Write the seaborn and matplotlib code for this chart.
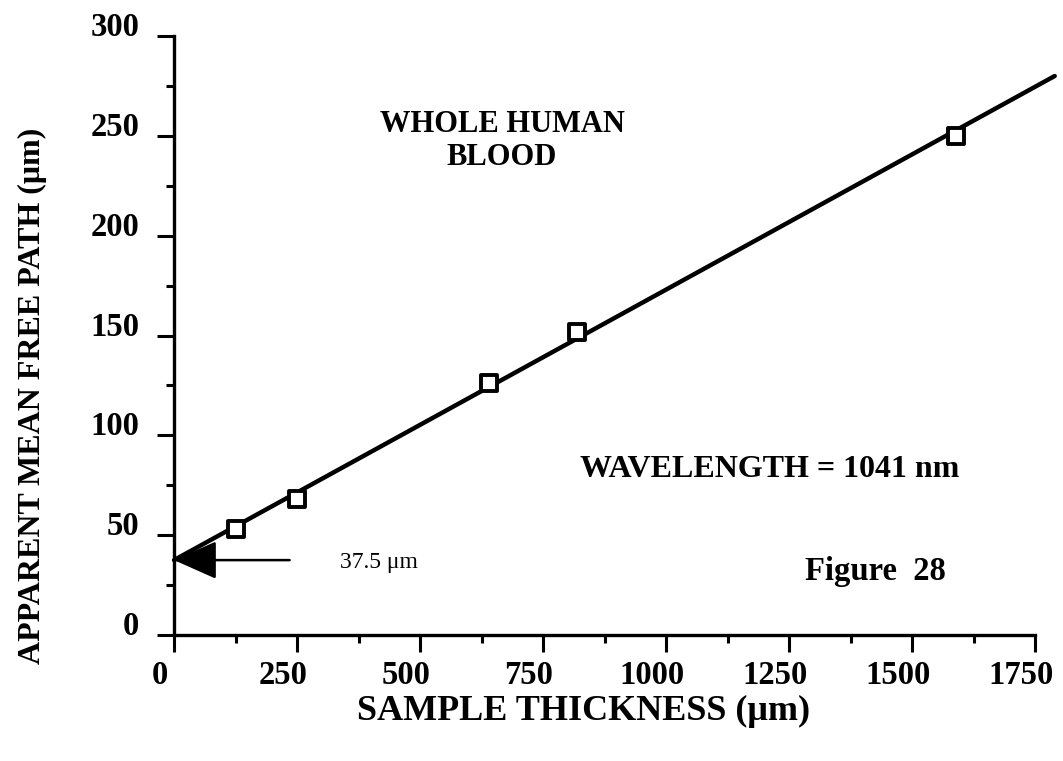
import matplotlib
matplotlib.use("Agg")
import matplotlib.pyplot as plt
import matplotlib.transforms as mtransforms
from matplotlib.ticker import MultipleLocator
import seaborn as sns

# ---- data ----
thickness_um = [125, 250, 640, 820, 1590]        # sample thickness (µm)
mean_free_path_um = [53, 68, 126, 152, 250]      # apparent mean free path (µm)
fit_x = [0, 1790]                                # fitted line end points (x)
fit_y = [37.5, 280]                              # fitted line end points (y)
intercept_um = 37.5
arrow_tail_x = 235
x_ticks = [0, 250, 500, 750, 1000, 1250, 1500, 1750]
y_ticks = [0, 50, 100, 150, 200, 250, 300]

sns.set_theme(style="ticks", rc={
    "axes.edgecolor": "black", "xtick.color": "black", "ytick.color": "black",
    "text.color": "black", "axes.labelcolor": "black",
})
plt.rcParams["font.family"] = ["Liberation Serif", "DejaVu Serif"]
plt.rcParams["font.weight"] = "bold"
plt.rcParams["axes.labelweight"] = "bold"

fig = plt.figure(figsize=(10.63, 7.61), dpi=100)
ax = fig.add_axes([0.1637, 0.1656, 0.810, 0.787])

sns.lineplot(x=fit_x, y=fit_y, ax=ax, color="black", linewidth=3.2,
             clip_on=False, zorder=2)
sns.scatterplot(x=thickness_um, y=mean_free_path_um, ax=ax, marker="s", s=120,
                facecolor="white", edgecolor="black", linewidth=2.8, zorder=3,
                clip_on=False)

ax.set_xlim(0, 1750)
ax.set_ylim(0, 300)
ax.set_xticks(x_ticks)
ax.set_yticks(y_ticks)
ax.xaxis.set_minor_locator(MultipleLocator(125))
ax.yaxis.set_minor_locator(MultipleLocator(25))
sns.despine(ax=ax)
for s in ("left", "bottom"):
    ax.spines[s].set_linewidth(2.4)

ax.tick_params(which="major", length=12, width=2.2, labelsize=23.5)
ax.tick_params(which="minor", length=6, width=2.2)
ax.tick_params(axis="y", which="major", pad=13)
ax.tick_params(axis="x", which="major", pad=6)

for lbl in ax.get_yticklabels():
    lbl.set_verticalalignment("baseline")
offset = mtransforms.ScaledTranslation(-0.14, 0, fig.dpi_scale_trans)
for lbl in ax.get_xticklabels():
    lbl.set_transform(lbl.get_transform() + offset)

ax.set_xlabel("SAMPLE THICKNESS (μm)", fontsize=26)
ax.xaxis.set_label_coords(0.476, -0.100)
ax.set_ylabel("APPARENT MEAN FREE PATH (μm)", fontsize=23)
ax.yaxis.set_label_coords(-0.1475, 0.399)

ax.annotate("", xy=(0, intercept_um), xytext=(arrow_tail_x, intercept_um),
            arrowprops=dict(arrowstyle="-|>,head_length=1.35,head_width=0.6",
                            mutation_scale=20, lw=1.8, color="black",
                            shrinkA=0, shrinkB=0),
            annotation_clip=False, zorder=4)

ax.text(0.381, 0.825, "WHOLE HUMAN\nBLOOD", transform=ax.transAxes,
        ha="center", va="center", fontsize=22, linespacing=1.15)
ax.text(0.4715, 0.264, "WAVELENGTH = 1041 nm", transform=ax.transAxes,
        ha="left", va="baseline", fontsize=23)
ax.text(0.733, 0.092, "Figure  28", transform=ax.transAxes,
        ha="left", va="baseline", fontsize=23.5)
ax.text(0.193, 0.112, f"{intercept_um} μm", transform=ax.transAxes,
        ha="left", va="baseline", fontsize=17, fontweight="normal")

fig.savefig("out.png", dpi=100)
